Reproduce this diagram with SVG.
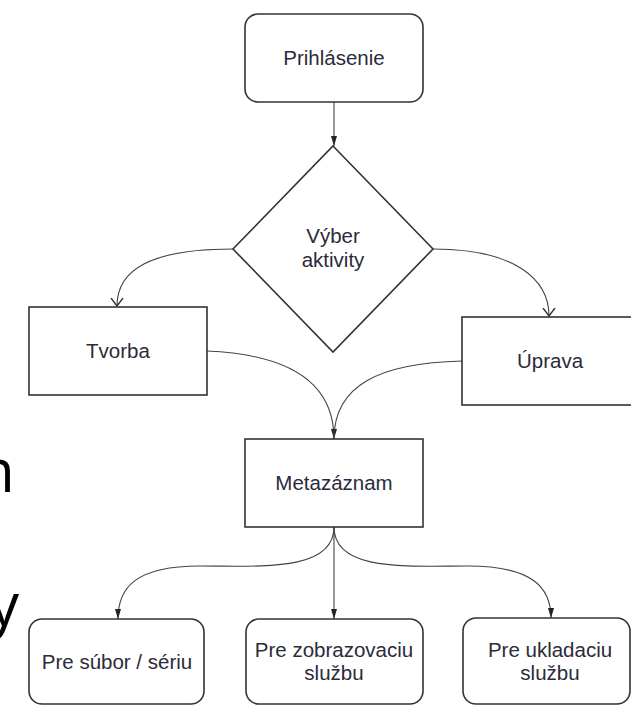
<svg xmlns="http://www.w3.org/2000/svg" width="631" height="706" viewBox="0 0 631 706">
<defs>
<style>
.box{fill:#fff;stroke:#333;stroke-width:1.6}
.lbl{font-family:"Liberation Sans",Arial,sans-serif;font-size:20.5px;fill:#2b2b3a;text-anchor:middle}
.con{fill:none;stroke:#444;stroke-width:1.1}
.big{font-family:"Open Sans","Noto Sans",sans-serif;font-size:60px;fill:#000}
</style>
<marker id="af" viewBox="0 0 10 6" refX="10" refY="3" markerWidth="10" markerHeight="6" orient="auto" markerUnits="userSpaceOnUse">
<path d="M0,0 L10,3 L0,6 z" fill="#222"/>
</marker>
<marker id="ao" viewBox="0 0 9 14" refX="8" refY="7" markerWidth="9" markerHeight="14" orient="auto" markerUnits="userSpaceOnUse">
<path d="M0,1 L8,7 L0,13" fill="none" stroke="#333" stroke-width="1.4"/>
</marker>
</defs>
<rect width="631" height="706" fill="#fff"/>
<text class="big" x="-22" y="492">n</text>
<text class="big" x="-11" y="626">y</text>
<g id="connectors">
<path class="con" d="M334,102 L334,146" marker-end="url(#af)"/>
<path class="con" d="M233,249 C150,249 117,270 117,306" marker-end="url(#ao)" stroke-width="1.4"/>
<path class="con" d="M433,249 C516,249 549,280 549,316" marker-end="url(#ao)" stroke-width="1.4"/>
<path class="con" d="M207,351 C300,355 334,390 334,439" marker-end="url(#af)"/>
<path class="con" d="M462,361 C380,363 334,385 334,439"/>
<path class="con" d="M334,527 C334,572 260,566 200,566 C135,566 118,588 118,619" marker-end="url(#af)"/>
<path class="con" d="M334,527 L334,619" marker-end="url(#af)"/>
<path class="con" d="M334,527 C334,572 408,566 468,566 C533,566 551,588 551,618" marker-end="url(#af)"/>
</g>
<g id="prihlasenie">
<rect class="box" x="245" y="14" width="178" height="88" rx="13"/>
<text class="lbl" x="334" y="65">Prihlásenie</text>
</g>
<g id="vyber">
<path class="box" d="M333,146 L433,249 L333,352 L233,249 Z"/>
<text class="lbl" x="333" y="243">Výber</text>
<text class="lbl" x="333" y="267">aktivity</text>
</g>
<g id="tvorba">
<rect class="box" x="29" y="307" width="178" height="88"/>
<text class="lbl" x="118" y="358">Tvorba</text>
</g>
<g id="uprava">
<rect class="box" x="462" y="317" width="180" height="88"/>
<text class="lbl" x="550" y="368">Úprava</text>
</g>
<g id="metazaznam">
<rect class="box" x="245" y="439" width="178" height="88"/>
<text class="lbl" x="334" y="490">Metazáznam</text>
</g>
<g id="subor">
<rect class="box" x="29" y="619" width="175" height="85" rx="13"/>
<text class="lbl" x="117" y="669">Pre súbor / sériu</text>
</g>
<g id="zobrazovacia">
<rect class="box" x="246" y="619" width="177" height="85" rx="13"/>
<text class="lbl" x="334" y="657">Pre zobrazovaciu</text>
<text class="lbl" x="334" y="680">službu</text>
</g>
<g id="ukladacia">
<rect class="box" x="463" y="618" width="167" height="86" rx="13"/>
<text class="lbl" x="550" y="657">Pre ukladaciu</text>
<text class="lbl" x="550" y="680">službu</text>
</g>
</svg>
